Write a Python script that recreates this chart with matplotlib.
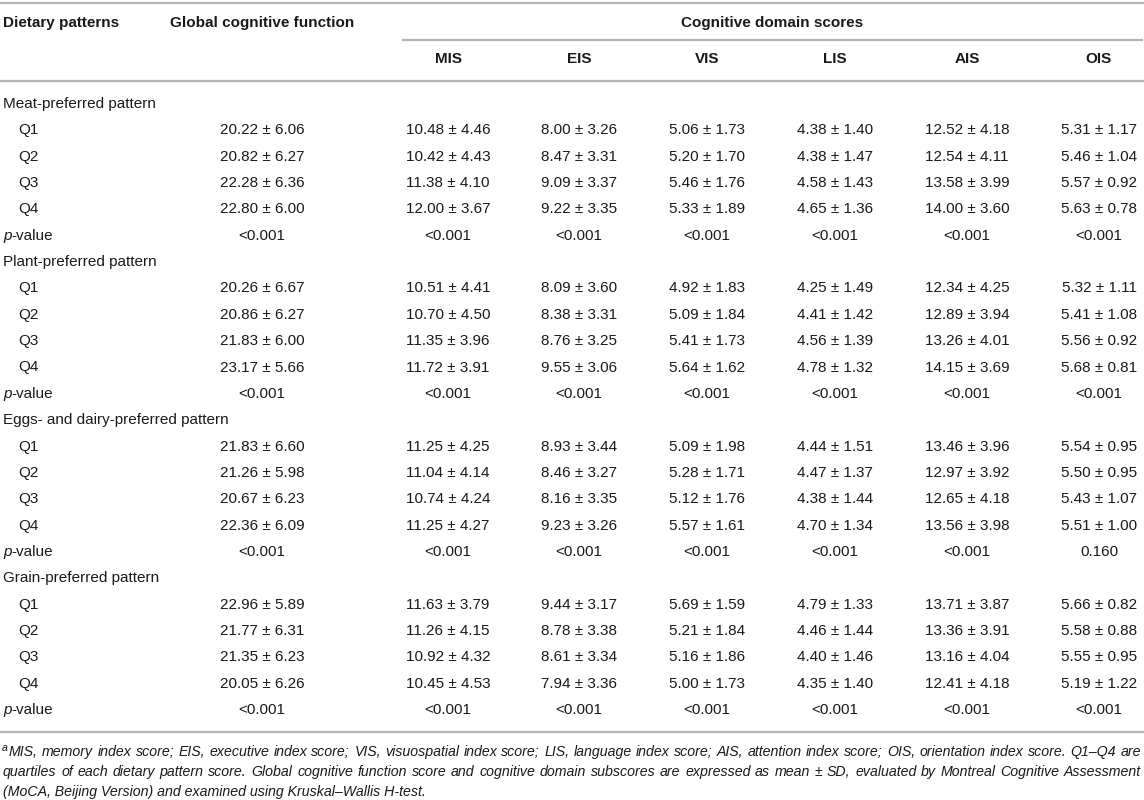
import matplotlib
matplotlib.use("Agg")
import matplotlib.pyplot as plt

plt.rcParams['font.family'] = ['Liberation Sans', 'DejaVu Sans']

# column headers
columns = ["MIS", "EIS", "VIS", "LIS", "AIS", "OIS"]
quartiles = ["Q1", "Q2", "Q3", "Q4"]

# rows: global, MIS, EIS, VIS, LIS, AIS, OIS  (mean, sd)
meat_mean = [[20.22, 10.48, 8.00, 5.06, 4.38, 12.52, 5.31],
             [20.82, 10.42, 8.47, 5.20, 4.38, 12.54, 5.46],
             [22.28, 11.38, 9.09, 5.46, 4.58, 13.58, 5.57],
             [22.80, 12.00, 9.22, 5.33, 4.65, 14.00, 5.63]]
meat_sd = [[6.06, 4.46, 3.26, 1.73, 1.40, 4.18, 1.17],
           [6.27, 4.43, 3.31, 1.70, 1.47, 4.11, 1.04],
           [6.36, 4.10, 3.37, 1.76, 1.43, 3.99, 0.92],
           [6.00, 3.67, 3.35, 1.89, 1.36, 3.60, 0.78]]
meat_p = ["<0.001"] * 7

plant_mean = [[20.26, 10.51, 8.09, 4.92, 4.25, 12.34, 5.32],
              [20.86, 10.70, 8.38, 5.09, 4.41, 12.89, 5.41],
              [21.83, 11.35, 8.76, 5.41, 4.56, 13.26, 5.56],
              [23.17, 11.72, 9.55, 5.64, 4.78, 14.15, 5.68]]
plant_sd = [[6.67, 4.41, 3.60, 1.83, 1.49, 4.25, 1.11],
            [6.27, 4.50, 3.31, 1.84, 1.42, 3.94, 1.08],
            [6.00, 3.96, 3.25, 1.73, 1.39, 4.01, 0.92],
            [5.66, 3.91, 3.06, 1.62, 1.32, 3.69, 0.81]]
plant_p = ["<0.001"] * 7

eggs_mean = [[21.83, 11.25, 8.93, 5.09, 4.44, 13.46, 5.54],
             [21.26, 11.04, 8.46, 5.28, 4.47, 12.97, 5.50],
             [20.67, 10.74, 8.16, 5.12, 4.38, 12.65, 5.43],
             [22.36, 11.25, 9.23, 5.57, 4.70, 13.56, 5.51]]
eggs_sd = [[6.60, 4.25, 3.44, 1.98, 1.51, 3.96, 0.95],
           [5.98, 4.14, 3.27, 1.71, 1.37, 3.92, 0.95],
           [6.23, 4.24, 3.35, 1.76, 1.44, 4.18, 1.07],
           [6.09, 4.27, 3.26, 1.61, 1.34, 3.98, 1.00]]
eggs_p = ["<0.001"] * 6 + ["0.160"]

grain_mean = [[22.96, 11.63, 9.44, 5.69, 4.79, 13.71, 5.66],
              [21.77, 11.26, 8.78, 5.21, 4.46, 13.36, 5.58],
              [21.35, 10.92, 8.61, 5.16, 4.40, 13.16, 5.55],
              [20.05, 10.45, 7.94, 5.00, 4.35, 12.41, 5.19]]
grain_sd = [[5.89, 3.79, 3.17, 1.59, 1.33, 3.87, 0.82],
            [6.31, 4.15, 3.38, 1.84, 1.44, 3.91, 0.88],
            [6.23, 4.32, 3.34, 1.86, 1.46, 4.04, 0.95],
            [6.26, 4.53, 3.36, 1.73, 1.40, 4.18, 1.22]]
grain_p = ["<0.001"] * 7

patterns = [("Meat-preferred pattern", meat_mean, meat_sd, meat_p),
            ("Plant-preferred pattern", plant_mean, plant_sd, plant_p),
            ("Eggs- and dairy-preferred pattern", eggs_mean, eggs_sd, eggs_p),
            ("Grain-preferred pattern", grain_mean, grain_sd, grain_p)]

footnote = [
    "MIS, memory index score; EIS, executive index score; VIS, visuospatial index score; LIS, language index score; AIS, attention index score; OIS, orientation index score. Q1\u2013Q4 are",
    "quartiles of each dietary pattern score. Global cognitive function score and cognitive domain subscores are expressed as mean \u00b1 SD, evaluated by Montreal Cognitive Assessment",
    "(MoCA, Beijing Version) and examined using Kruskal\u2013Wallis H-test.",
]

W, H = 1144, 800
fig = plt.figure(figsize=(W / 100, H / 100), dpi=100)
ax = fig.add_axes([0, 0, 1, 1])
ax.set_xlim(0, W)
ax.set_ylim(H, 0)
ax.axis('off')

txt = '#1a1a1a'
line_c = '#b4b4b4'
fs = 11
col_x = [262, 448, 579, 707, 835, 967, 1099]

# rule lines
ax.plot([0, W], [3, 3], color=line_c, lw=1.6)
ax.plot([403, W - 2], [40, 40], color=line_c, lw=1.6)
ax.plot([0, W], [81, 81], color=line_c, lw=1.6)
ax.plot([0, W], [732, 732], color=line_c, lw=1.6)

# header
ax.text(3, 23, "Dietary patterns", fontsize=fs, fontweight='bold', color=txt, va='center')
ax.text(170, 23, "Global cognitive function", fontsize=fs, fontweight='bold', color=txt, va='center')
ax.text(772, 23, "Cognitive domain scores", fontsize=fs, fontweight='bold', color=txt, va='center', ha='center')
for x, c in zip(col_x[1:], columns):
    ax.text(x, 59, c, fontsize=fs, fontweight='bold', color=txt, va='center', ha='center')

# body
y0, dy = 104, 26.35
row = 0
for name, means, sds, pv in patterns:
    ax.text(3, y0 + row * dy, name, fontsize=fs, color=txt, va='center')
    row += 1
    for q, m, s in zip(quartiles, means, sds):
        y = y0 + row * dy
        ax.text(18, y, q, fontsize=fs, color=txt, va='center')
        for x, mv, sv in zip(col_x, m, s):
            ax.text(x, y, f"{mv:.2f} \u00b1 {sv:.2f}", fontsize=fs, color=txt, va='center', ha='center')
        row += 1
    y = y0 + row * dy
    ax.text(3, y, "p", fontsize=fs, color=txt, va='center', style='italic')
    ax.text(11.5, y, "-value", fontsize=fs, color=txt, va='center')
    for x, p in zip(col_x, pv):
        ax.text(x, y, p, fontsize=fs, color=txt, va='center', ha='center')
    row += 1

# footnote (justified on the first two lines)
fig.canvas.draw()
renderer = fig.canvas.get_renderer()
ffs = 10.2
ax.text(2, 748, "a", fontsize=7.5, style='italic', color=txt, va='center')
x_left, x_right = 9, 1141
for i, line in enumerate(footnote):
    y = 752 + i * 20
    xl = x_left if i == 0 else 3
    if i == len(footnote) - 1:
        ax.text(xl, y, line, fontsize=ffs, style='italic', color=txt, va='center')
        continue
    words = line.split(' ')
    widths = []
    for w in words:
        t = ax.text(0, 0, w, fontsize=ffs, style='italic')
        bb = t.get_window_extent(renderer)
        widths.append(bb.width)
        t.remove()
    gap = (x_right - xl - sum(widths)) / (len(words) - 1)
    x = xl
    for w, wd in zip(words, widths):
        ax.text(x, y, w, fontsize=ffs, style='italic', color=txt, va='center')
        x += wd + gap

fig.savefig("out.png", dpi=100)
